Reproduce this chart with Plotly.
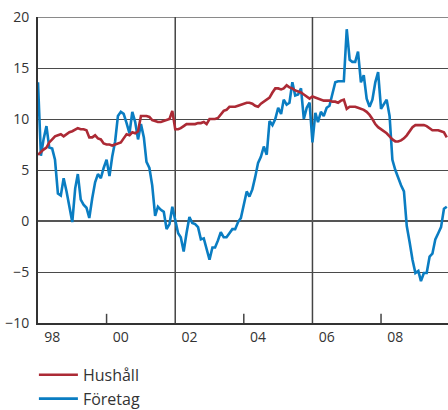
import pandas as pd
import plotly.graph_objects as go

# Monthly observations, January 1998 - December 2009 (annual % change)
months = pd.date_range("1998-01-01", periods=144, freq="MS")

hushall = [
    6.5, 6.8, 7.0, 7.2, 7.7, 8.0, 8.3, 8.4, 8.5, 8.3, 8.5, 8.7,
    8.8, 9.0, 9.1, 9.0, 9.0, 8.9, 8.2, 8.2, 8.4, 8.1, 8.0, 7.6,
    7.5, 7.5, 7.4, 7.5, 7.6, 7.7, 8.1, 8.5, 8.4, 8.7, 8.6, 8.8,
    10.3, 10.3, 10.3, 10.2, 9.9, 9.8, 9.7, 9.7, 9.8, 9.9, 10.0, 10.8,
    9.0, 9.0, 9.1, 9.3, 9.5, 9.5, 9.5, 9.5, 9.6, 9.6, 9.7, 9.5,
    10.0, 10.0, 10.0, 10.1, 10.4, 10.8, 10.9, 11.2, 11.2, 11.2, 11.3, 11.4,
    11.5, 11.6, 11.6, 11.5, 11.3, 11.2, 11.5, 11.7, 11.9, 12.1, 12.6, 13.0,
    13.0, 12.9, 13.0, 13.3, 13.1, 13.0, 12.8, 12.7, 12.6, 12.4, 12.2, 12.0,
    12.2, 12.1, 12.0, 11.9, 11.8, 11.8, 11.8, 11.7, 11.7, 11.6, 11.8, 11.9,
    11.0, 11.2, 11.2, 11.2, 11.1, 11.0, 10.9, 10.7, 10.4, 10.0, 9.5, 9.2,
    9.0, 8.8, 8.6, 8.3, 8.0, 7.8, 7.8, 7.9, 8.1, 8.4, 8.8, 9.2,
    9.4, 9.4, 9.4, 9.4, 9.3, 9.1, 8.9, 8.9, 8.9, 8.8, 8.7, 8.2,
]

foretag = [
    13.6, 6.4, 8.0, 9.3, 7.2, 7.1, 6.0, 2.7, 2.5, 4.2, 2.9, 1.5,
    -0.1, 3.2, 4.6, 2.1, 1.6, 1.3, 0.3, 2.2, 3.8, 4.6, 4.2, 5.2,
    6.0, 4.4, 6.3, 7.8, 10.3, 10.7, 10.5, 9.6, 8.6, 10.7, 9.7, 8.0,
    9.5, 8.2, 5.8, 5.2, 3.5, 0.5, 1.4, 1.1, 0.9, -0.8, -0.3, 1.4,
    0.2, -1.2, -1.6, -3.0, -1.2, 0.4, -0.2, -0.3, -0.6, -1.8, -1.7, -2.8,
    -3.8, -2.6, -2.6, -1.9, -1.1, -1.6, -1.6, -1.2, -0.8, -0.8, -0.1, 0.3,
    1.5, 2.9, 2.4, 3.1, 4.3, 5.7, 6.3, 7.3, 6.5, 9.8, 9.4, 10.0,
    11.1, 10.5, 11.9, 11.4, 11.6, 13.6, 12.3, 12.4, 13.0, 10.0, 11.1, 11.6,
    7.7, 10.6, 9.7, 10.7, 10.3, 11.1, 11.3, 12.5, 13.6, 13.7, 13.7, 13.7,
    18.8, 15.8, 15.6, 15.6, 16.6, 13.6, 14.3, 12.0, 11.2, 11.9, 13.6, 14.6,
    11.0, 11.5, 11.9, 10.3, 6.0, 5.0, 4.2, 3.5, 2.9, -0.5, -2.1, -3.8,
    -5.1, -4.9, -5.9, -5.1, -5.1, -3.5, -3.2, -1.8, -1.2, -0.6, 1.2, 1.4,
]

year_labels = ["98", "00", "02", "04", "06", "08"]
label_dates = ["1998-06-01", "2000-06-01", "2002-06-01",
               "2004-06-01", "2006-06-01", "2008-06-01"]
y_ticks = [-10, -5, 0, 5, 10, 15, 20]

RED = "#AC2A35"
BLUE = "#0A7DC2"
FONT = "Open Sans"

fig = go.Figure()
fig.add_trace(go.Scatter(x=months, y=foretag, mode="lines", name="Företag",
                         legendgroup="f", line=dict(color=BLUE, width=2.6)))
fig.add_trace(go.Scatter(x=months, y=hushall, mode="lines", name="Hushåll",
                         legendgroup="h", line=dict(color=RED, width=2.6)))

# full-height dividers at 2002 and 2006
for d in ["2002-01-01", "2006-01-01"]:
    fig.add_shape(type="line", xref="x", yref="y", x0=d, x1=d, y0=-10, y1=20,
                  line=dict(color="#444444", width=1.5), layer="below")
# short ticks at 2000, 2004, 2008
for d in ["2000-01-01", "2004-01-01", "2008-01-01"]:
    fig.add_shape(type="line", xref="x", yref="y", x0=d, x1=d, y0=-10, y1=-9.1,
                  line=dict(color="#444444", width=1.5), layer="below")
# top border
fig.add_shape(type="line", xref="paper", yref="y", x0=0, x1=1, y0=20, y1=20,
              line=dict(color="#8a8a8a", width=2), layer="below")

fig.update_layout(
    width=448, height=410,
    margin=dict(l=38, r=0, t=17, b=87, autoexpand=False),
    paper_bgcolor="white", plot_bgcolor="white",
    font=dict(family=FONT, size=14, color="#333333"),
    showlegend=True,
    legend=dict(orientation="v", x=-0.01, xanchor="left", y=-0.114, yanchor="top",
                traceorder="reversed", font=dict(size=16, color="#333333"),
                bgcolor="rgba(0,0,0,0)", itemwidth=39, tracegroupgap=1),
    xaxis=dict(range=["1998-01-01", "2009-12-14"], tickvals=label_dates,
               ticktext=year_labels, ticks="", showgrid=False, zeroline=False,
               showline=True, linecolor="#333333", linewidth=2,
               tickfont=dict(size=14, color="#333333")),
    yaxis=dict(range=[-10, 20], tickvals=y_ticks, ticks="", showgrid=True,
               gridcolor="#4a4a4a", gridwidth=1, zeroline=True,
               zerolinecolor="#555555", zerolinewidth=2,
               showline=True, linecolor="#333333", linewidth=2,
               ticklabelstandoff=4,
               tickfont=dict(size=14, color="#333333")),
)

fig.write_html("out.html")
